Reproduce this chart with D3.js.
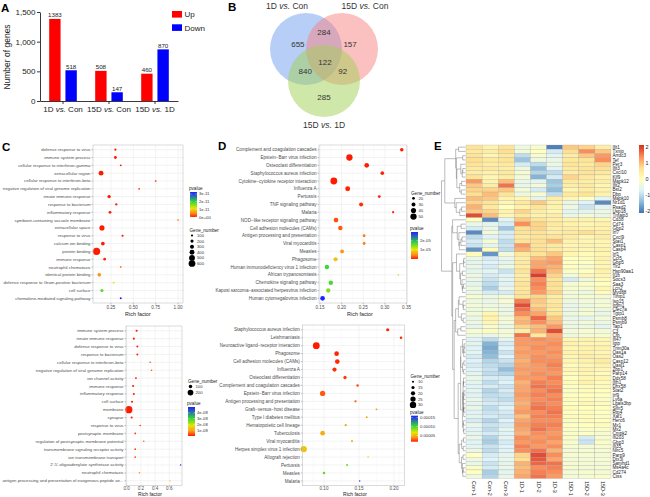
<!DOCTYPE html>
<html>
<head>
<meta charset="utf-8">
<script src="https://cdn.jsdelivr.net/npm/d3@7"></script>
<style>
  body { margin: 0; background: #fff }
  svg { display: block }
  text { font-family: "Liberation Sans", Arial, sans-serif }
</style>
</head>
<body>
<svg id="fig" width="650" height="497"></svg>
<script>
// ---------- A: numbers of DEGs
const comparisons = ["1D vs. Con", "15D vs. Con", "15D vs. 1D"]
const directions = ["Up", "Down"]
const upCounts = [1383, 508, 460]
const downCounts = [518, 147, 870]
const countTicks = [0, 500, 1000, 1500]

// ---------- B: venn
const vennSets = ["1D vs. Con", "15D vs. Con", "15D vs. 1D"]
const vennRegions = ["1", "2", "1&2", "1&3", "1&2&3", "2&3", "3"]
const vennCounts = [655, 157, 284, 840, 122, 92, 285]

// ---------- C: GO enrichment (top / bottom)
const goTopTerms = ["defense response to virus", "immune system process", "cellular response to interferon-gamma", "extracellular region",
  "cellular response to interferon-beta", "negative regulation of viral genome replication", "innate immune response", "response to bacterium",
  "inflammatory response", "symbiont-containing vacuole membrane", "extracellular space", "response to virus", "calcium ion binding",
  "protein binding", "immune response", "neutrophil chemotaxis", "identical protein binding", "defense response to Gram-positive bacterium",
  "cell surface", "chemokine-mediated signaling pathway"]
const goTopRich = [0.30, 0.30, 0.36, 0.14, 0.75, 0.565, 0.23, 0.31, 0.24, 1.0, 0.15, 0.38, 0.16, 0.09, 0.18, 0.36, 0.12, 0.28, 0.15, 0.36]
const goTopGenes = [90, 170, 60, 390, 40, 45, 230, 110, 160, 30, 420, 90, 260, 650, 150, 60, 250, 55, 200, 70]
const goTopP = [1e-25, 1e-30, 2e-14, 1e-35, 5e-13, 8e-13, 1e-28, 3e-16, 1e-20, 3.5e-12, 1e-40, 2e-15, 1e-18, 1e-45, 1e-17, 4.5e-12, 5.5e-12, 1.1e-11, 1.8e-11, 3.26e-11]
const goTopSizeTicks = [100, 200, 300, 400, 500, 600]
const goTopPTicks = [0, 1e-11, 2e-11, 3e-11]

const goBotTerms = ["immune system process", "innate immune response", "defense response to virus", "response to bacterium",
  "cellular response to interferon-beta", "negative regulation of viral genome replication", "ion channel activity", "immune response",
  "inflammatory response", "cell surface", "membrane", "synapse", "response to virus", "postsynaptic membrane",
  "regulation of postsynaptic membrane potential", "transmembrane signaling receptor activity", "ion transmembrane transport",
  "2'-5'-oligoadenylate synthetase activity", "neutrophil chemotaxis", "antigen processing and presentation of exogenous peptide an..."]
const goBotRich = [0.14, 0.10, 0.15, 0.15, 0.33, 0.35, 0.13, 0.09, 0.10, 0.075, 0.03, 0.07, 0.19, 0.12, 0.24, 0.12, 0.12, 0.76, 0.18, 0.61]
const goBotGenes = [40, 36, 30, 28, 10, 10, 30, 32, 30, 36, 265, 32, 15, 22, 12, 22, 22, 5, 12, 6]
const goBotP = [1e-20, 1e-18, 1e-16, 1e-15, 3e-9, 3.5e-9, 1e-12, 1e-14, 1e-13, 1e-12, 1e-25, 1e-11, 2e-9, 2e-9, 5e-9, 3e-9, 3.5e-9, 5e-8, 8e-9, 1.8e-8]
const goBotSizeTicks = [100, 200]
const goBotPTicks = [0, 1e-8, 2e-8, 3e-8, 4e-8]

// ---------- D: KEGG enrichment (top / bottom)
const keggTopTerms = ["Complement and coagulation cascades", "Epstein\u2212Barr virus infection", "Osteoclast differentiation",
  "Staphylococcus aureus infection", "Cytokine\u2212cytokine receptor interaction", "Influenza A", "Pertussis", "TNF signaling pathway",
  "Malaria", "NOD\u2212like receptor signaling pathway", "Cell adhesion molecules (CAMs)", "Antigen processing and presentation",
  "Viral myocarditis", "Measles", "Phagosome", "Human immunodeficiency virus 1 infection", "African trypanosomiasis",
  "Chemokine signaling pathway", "Kaposi sarcoma\u2212associated herpesvirus infection", "Human cytomegalovirus infection"]
const keggTopRich = [0.339, 0.218, 0.258, 0.294, 0.182, 0.214, 0.287, 0.245, 0.319, 0.187, 0.197, 0.252, 0.252, 0.201, 0.186, 0.166, 0.331, 0.175, 0.169, 0.156]
const keggTopGenes = [26, 50, 36, 27, 54, 38, 21, 31, 16, 36, 34, 21, 21, 29, 31, 34, 10, 34, 33, 36]
const keggTopP = [1e-7, 1e-7, 2e-7, 3e-7, 1e-7, 4e-7, 6e-7, 8e-7, 1e-6, 2e-6, 2.5e-6, 4e-6, 4e-6, 5e-6, 8e-6, 1.75e-5, 1.1e-5, 1.7e-5, 1.45e-5, 2.94e-5]
const keggTopSizeTicks = [20, 30, 40, 50]
const keggTopPTicks = [1e-5, 2e-5]

const keggBotTerms = ["Staphylococcus aureus infection", "Leishmaniasis", "Neuroactive ligand\u2212receptor interaction", "Phagosome",
  "Cell adhesion molecules (CAMs)", "Influenza A", "Osteoclast differentiation", "Complement and coagulation cascades",
  "Epstein\u2212Barr virus infection", "Antigen processing and presentation", "Graft\u2212versus\u2212host disease", "Type I diabetes mellitus",
  "Hematopoietic cell lineage", "Tuberculosis", "Viral myocarditis", "Herpes simplex virus 1 infection", "Allograft rejection",
  "Pertussis", "Measles", "Malaria"]
const keggBotRich = [0.191, 0.210, 0.089, 0.118, 0.119, 0.115, 0.130, 0.148, 0.098, 0.145, 0.175, 0.161, 0.131, 0.098, 0.140, 0.071, 0.163, 0.133, 0.100, 0.151]
const keggBotGenes = [15, 12, 32, 22, 22, 20, 16, 12, 25, 11, 9, 9, 11, 22, 11, 30, 8, 10, 12, 7]
const keggBotP = [1.7e-5, 1.8e-5, 1.6e-5, 1.8e-5, 1.9e-5, 2e-5, 2.2e-5, 2.6e-5, 2.8e-5, 3e-5, 4e-5, 4.2e-5, 4.5e-5, 4.8e-5, 5.5e-5, 5.5e-5, 7e-5, 9e-5, 9.5e-5, 1.6e-4]
const keggBotSizeTicks = [10, 15, 20, 25, 30]
const keggBotPTicks = [5e-5, 1e-4, 1.5e-4]

// ---------- E: heatmap
const heatSamples = ["Con-1", "Con-2", "Con-3", "1D-1", "1D-2", "1D-3", "15D-1", "15D-2", "15D-3"]
const heatGenes = ["Ifit1", "Txnip", "Arrdc3", "Tef", "Per3", "Ifit3", "Cxcl10", "Klf9", "Mapk12", "Ifit2", "Bst2", "Dbp", "Mapk10",
  "Nr1d1", "Rsad2", "Usp18", "Tnfaip3", "Cd38", "Cd74", "Gbp2", "Irf7", "Cxcl9", "Stat1", "Casp1", "Casp4", "Irf1", "Ccl5", "Gbp5",
  "Tlr2", "Hsp90aa1", "Il1b", "Socs3", "Saa3", "Lcn2", "Myd88", "Timp1", "Isg15", "Irgm1", "Clec7a", "Tgtp1", "Psmb8", "Psmb9",
  "Tap1", "C3", "Cfb", "Ifi47", "Igtp", "Trim30a", "Oas1a", "Oas2", "Casp12", "Oasl1", "Zbp1", "Parp14", "Ddx58", "Ifih1", "Dhx58",
  "Stat2", "Irf9", "Ly6a", "Lgals3bp", "Slfn5", "Rtp4", "Xaf1", "Herc6", "Mx1", "Mx2", "Cmpk2", "Ifi203", "Gbp3", "Ifi35", "Nlrc5",
  "Parp9", "Dtx3l", "Samhd1", "Ms4a4c", "Cd274", "Ctss"]
const heatValues = [
  [0.6, 0.3, 0.6, -0.4, -0.2, -2.0, 0.9, 0.8, 0.4],
  [0.5, 0.4, 0.7, -0.3, 0.0, -0.8, 0.7, 1.4, 0.9],
  [0.6, 0.2, 0.5, -1.0, -0.2, -0.6, 0.4, 0.9, 1.3],
  [0.7, 0.5, 0.6, -1.3, -0.4, -0.5, 0.5, 0.6, 1.4],
  [0.6, 0.4, 0.5, -0.8, -1.0, -0.4, 0.6, 0.5, 0.8],
  [0.5, 0.5, 0.4, -0.4, -1.4, -0.7, 0.5, 0.6, 0.7],
  [0.4, 0.3, 0.5, -0.2, -1.1, -1.0, 0.4, 0.6, 0.5],
  [0.6, 0.2, 0.4, -0.3, -1.5, -0.8, 0.8, 0.5, 0.3],
  [1.3, 0.3, 1.0, -0.5, -0.6, -1.3, 0.5, 0.4, 0.4],
  [0.9, 0.4, 1.6, -0.5, -0.3, -1.2, 0.4, 0.5, 0.2],
  [0.8, 0.8, 0.9, -0.3, -0.8, -1.4, 0.2, 0.4, 0.3],
  [0.7, 1.0, 0.6, -0.4, -0.2, -1.0, 0.5, 0.6, 0.3],
  [1.0, 0.9, 0.3, 0.2, -0.6, 0.4, 0.2, 0.0, -0.6],
  [0.8, 0.6, 0.2, 0.5, 0.9, 0.3, -0.5, -0.7, -1.9],
  [1.1, 0.5, 0.0, 0.3, 0.6, 0.3, -0.4, -0.9, -0.6],
  [0.9, 0.8, 0.3, 0.8, 0.4, 0.2, -0.6, -0.6, -0.4],
  [1.9, 1.0, 0.2, 0.5, 0.3, 0.4, -0.5, -0.3, -0.5],
  [0.0, -1.9, -0.6, 0.9, 0.6, 0.4, 0.3, 0.3, 0.2],
  [-0.5, -0.6, -0.8, 1.4, 0.8, 0.5, 0.3, 0.2, 0.3],
  [-0.8, -0.5, -1.3, 0.7, 0.8, 0.4, 0.4, 0.3, 0.3],
  [-1.9, -0.3, -0.8, 0.6, 0.6, 0.4, 0.5, 0.7, 0.4],
  [-1.0, -0.7, -0.8, 0.5, 0.6, 0.6, 0.4, 0.2, 0.4],
  [-0.8, -0.2, -1.0, 0.6, 0.7, 1.0, 0.3, 0.2, 0.2],
  [-0.9, -0.6, -0.9, 1.3, 0.6, 0.5, 0.2, 0.3, 0.2],
  [-1.8, 0.1, -1.0, 1.1, 0.7, 0.5, 0.3, 0.2, 0.3],
  [0.1, -1.8, -0.3, 0.5, 0.6, 0.9, 0.2, 0.1, 0.2],
  [-0.4, -0.8, -0.5, 0.4, 1.0, 1.2, 0.0, 0.1, 0.3],
  [-0.6, -0.7, -0.6, 0.5, 1.2, 1.3, 0.0, 0.0, 0.2],
  [-0.5, -0.8, -0.4, 0.4, 1.2, 1.1, 0.0, -0.2, 0.2],
  [-0.6, -0.6, -0.9, 0.6, 1.6, 1.0, -0.1, 0.0, 0.3],
  [-0.4, -0.8, -0.7, 0.4, 2.0, 0.8, -0.3, 0.2, 0.2],
  [-0.5, -0.9, -0.6, 0.5, 1.4, 0.6, -0.8, -0.4, 0.1],
  [-0.6, -1.0, -0.7, 0.6, 1.5, 0.7, -0.2, -0.1, 0.0],
  [-0.4, -1.2, -0.5, 0.5, 1.4, 0.6, -0.2, -0.2, 0.2],
  [-0.5, -0.8, -0.8, 0.6, 1.3, 0.8, -0.3, -0.4, 0.1],
  [-0.2, -0.4, -0.3, 0.6, 0.8, 0.4, -0.3, -0.2, -0.3],
  [-0.4, -0.5, -0.2, 1.5, 0.9, 0.5, -0.4, -0.3, -0.3],
  [-0.3, -0.4, -0.4, 1.9, 0.8, 0.6, -0.5, -0.4, -0.2],
  [-0.4, -0.3, -0.5, 1.6, 1.0, 0.5, -0.5, -0.3, -0.4],
  [-0.3, 0.2, -0.4, 1.4, 1.2, 0.6, -0.4, -0.2, -0.5],
  [-0.5, 0.3, -0.3, 1.0, 1.7, 0.9, -0.5, -0.6, -0.3],
  [-0.4, 0.2, -0.3, 1.1, 1.4, 1.0, -0.4, -0.3, -0.4],
  [-0.6, -0.2, -0.5, 0.8, 1.0, 1.3, -0.4, -0.4, -0.6],
  [-0.2, 0.1, -0.3, 0.4, 1.1, 1.9, -0.3, -0.2, -0.3],
  [-0.4, -0.5, -0.3, 1.6, 0.5, 1.2, -0.4, -0.3, -0.2],
  [-0.7, -1.0, -0.6, 1.3, 1.4, 1.3, 0.2, 0.3, 0.2],
  [-0.6, -1.5, -0.8, 1.3, 1.3, 1.4, 0.3, 0.2, 0.2],
  [-0.7, -1.6, -0.7, 1.2, 1.4, 1.3, 0.2, 0.3, 0.3],
  [-0.6, -1.5, -0.9, 1.3, 1.3, 1.4, 0.3, 0.3, 0.2],
  [-0.8, -1.4, -0.7, 1.2, 1.4, 1.3, 0.2, 0.4, 0.3],
  [-0.7, -1.1, -0.9, 1.1, 1.4, 1.4, 0.2, 0.3, 0.4],
  [-0.8, -1.0, -1.1, 1.2, 1.3, 1.5, 0.1, 0.2, 0.3],
  [-0.7, -0.9, -1.4, 1.3, 1.3, 1.4, 0.2, 0.3, 0.2],
  [-0.6, -1.0, -1.1, 1.2, 1.4, 1.3, 0.1, 0.2, 0.1],
  [-0.5, -0.8, -0.8, 1.3, 1.3, 1.5, 0.0, 0.2, 0.2],
  [-0.6, -1.0, -0.7, 1.1, 1.5, 1.4, 0.1, 0.3, 0.1],
  [-0.7, -0.8, -0.9, 1.2, 1.6, 1.5, 0.0, 0.1, 0.1],
  [-0.6, -1.1, -0.8, 1.2, 1.4, 1.6, -0.1, 0.1, 0.0],
  [-0.7, -1.0, -0.9, 1.3, 1.5, 1.4, 0.0, 0.0, 0.0],
  [-0.5, -0.9, -1.0, 1.2, 1.4, 1.5, 0.1, 0.1, -0.1],
  [-0.6, -0.8, -0.8, 1.1, 1.5, 1.4, 0.0, 0.2, 0.1],
  [-0.5, -1.0, -0.7, 1.2, 1.6, 1.5, 0.1, 0.0, 0.0],
  [-0.7, -0.9, -0.8, 1.3, 1.4, 1.6, 0.0, 0.1, 0.0],
  [-0.6, -0.8, -0.9, 1.0, 1.5, 1.5, 0.1, 0.1, -0.1],
  [-0.8, -1.1, -0.7, 1.2, 1.4, 1.4, -0.1, 0.1, 0.0],
  [-0.5, -0.9, -0.8, 1.3, 1.5, 1.5, 0.0, 0.0, 0.1],
  [-0.7, -1.0, -0.6, 1.2, 1.6, 1.4, -0.1, -0.1, -0.1],
  [-0.6, -0.8, -0.7, 1.1, 1.4, 1.3, -0.1, 0.0, -0.2],
  [-0.5, -1.1, -0.6, 1.4, 1.3, 1.4, -0.1, -0.8, -0.2],
  [-0.7, -1.2, -0.8, 1.3, 1.4, 1.2, -0.2, -0.9, -0.1],
  [-0.6, -0.9, -0.7, 1.5, 1.3, 1.4, -0.2, -0.3, -0.2],
  [-0.5, -1.0, -0.7, 1.4, 1.6, 1.1, -0.3, -0.2, -0.2],
  [0.0, -0.8, -0.6, 0.8, 1.9, 1.4, -0.2, -0.2, -0.3],
  [-0.4, -0.7, -0.5, 0.7, 1.8, 1.2, -0.3, -0.3, -0.2],
  [-0.5, -0.9, -0.6, 1.1, 1.7, 1.6, -0.2, -0.2, -0.3],
  [-0.1, -0.8, -0.5, 1.0, 1.4, 1.5, -0.2, -0.3, -0.2],
  [0.0, -1.2, -0.6, 1.1, 1.5, 1.4, -0.3, -0.2, -0.3],
  [-0.4, -1.1, -0.5, 1.2, 1.6, 1.3, -0.3, -0.2, -0.1]
]
const heatTicks = [-2, -1, 0, 1, 2]
const rdylbu = ["#4575B4", "#91BFDB", "#E0F3F8", "#FFFFBF", "#FEE090", "#FC8D59", "#D73027"]

// ---------- drawing
const svg = d3.select("#fig")
const fontFamily = `"Liberation Sans", Arial, sans-serif`

const panelLetter = (t, x, y) => svg.append("text").attr("x", x).attr("y", y)
  .attr("font-size", 11.5).attr("font-weight", "bold").text(t)

// "1D vs. Con" with italic vs.
const vsLabel = (sel, label) => {
  const [a, b] = label.split(" vs. ")
  sel.text(null)
  sel.append("tspan").text(a + " ")
  sel.append("tspan").attr("font-style", "italic").text("vs.")
  sel.append("tspan").text(" " + b)
}

const drawBars = () => {
  const g = svg.append("g")
  const y = d3.scaleLinear().domain([0, 1500]).range([101, 12])
  const x0 = d3.scaleBand().domain(comparisons).range([40, 178]).paddingInner(0.4).paddingOuter(0.2)
  const x1 = d3.scaleBand().domain(directions).range([0, x0.bandwidth()]).paddingInner(0.3)
  const color = d3.scaleOrdinal().domain(directions).range(["#ff0000", "#0000ff"])
  const rows = comparisons.map((c, i) => ({ c, vals: [{ k: "Up", v: upCounts[i] }, { k: "Down", v: downCounts[i] }] }))

  const grp = g.selectAll(".grp").data(rows).join("g").attr("transform", d => `translate(${x0(d.c)},0)`)
  grp.selectAll("rect").data(d => d.vals).join("rect")
    .attr("x", d => x1(d.k)).attr("width", x1.bandwidth())
    .attr("y", d => y(d.v)).attr("height", d => y(0) - y(d.v))
    .attr("fill", d => color(d.k))
  grp.selectAll(".val").data(d => d.vals).join("text")
    .attr("x", d => x1(d.k) + x1.bandwidth() / 2).attr("y", d => y(d.v) - 1.5)
    .attr("text-anchor", "middle").attr("font-size", 6.2).attr("fill", "#222").text(d => d.v)

  const yAxis = g.append("g").attr("transform", "translate(40,0)")
    .call(d3.axisLeft(y).tickValues(countTicks).tickSize(3).tickSizeOuter(0).tickPadding(1.5))
  yAxis.attr("font-family", fontFamily).selectAll("text").attr("font-size", 8).attr("fill", "#222")
  const xAxis = g.append("g").attr("transform", "translate(0,101)")
    .call(d3.axisBottom(x0).tickSize(3).tickSizeOuter(0).tickPadding(2))
  xAxis.attr("font-family", fontFamily).selectAll("text").attr("font-size", 8).attr("fill", "#222").each(function (d) { vsLabel(d3.select(this), d) })
  g.selectAll(".domain, .tick line").attr("stroke", "#222").attr("stroke-width", 0.9)

  g.append("text").attr("transform", "translate(10,57) rotate(-90)").attr("text-anchor", "middle")
    .attr("font-size", 8.5).attr("fill", "#222").text("Number of genes")

  const leg = g.selectAll(".leg").data(directions).join("g").attr("transform", (d, i) => `translate(172,${11 + i * 13.3})`)
  leg.append("rect").attr("width", 10).attr("height", 6.6).attr("fill", d => color(d))
  leg.append("text").attr("x", 12.5).attr("y", 6.3).attr("font-size", 8).attr("fill", "#222").text(d => d)
}

const drawVenn = () => {
  const g = svg.append("g")
  const centers = [[306, 49], [342, 49], [324, 81]]
  const r = 36
  const fills = ["#6f9ef0", "#f88282", "#a2d055"]
  g.selectAll("circle").data(vennSets).join("circle")
    .attr("cx", (d, i) => centers[i][0]).attr("cy", (d, i) => centers[i][1]).attr("r", r)
    .attr("fill", (d, i) => fills[i]).attr("fill-opacity", 0.5)
  const setLabelPos = [[287, 9], [365, 9], [324, 128]]
  g.selectAll(".setlab").data(vennSets).join("text")
    .attr("x", (d, i) => setLabelPos[i][0]).attr("y", (d, i) => setLabelPos[i][1])
    .attr("text-anchor", "middle").attr("font-size", 8.5).attr("fill", "#333")
    .each(function (d) { vsLabel(d3.select(this), d) })
  // region label anchor: mean of member centres pushed away from the rest
  const cm = [d3.mean(centers, c => c[0]), d3.mean(centers, c => c[1])]
  const pushBy = { "1": 0.45, "2": 0.45, "3": 0.75, "1&2": 0.9, "1&3": 0.6, "2&3": 0.6, "1&2&3": 0 }
  const regionPos = key => {
    const idx = key.split("&").map(k => +k - 1)
    const m = [d3.mean(idx, i => centers[i][0]), d3.mean(idx, i => centers[i][1])]
    const k = pushBy[key] * (idx.length === 2 ? 1.8 : 1)
    return idx.length === 3 ? [cm[0] + 1, cm[1] + 2] : [m[0] + (m[0] - cm[0]) * k, m[1] + (m[1] - cm[1]) * k]
  }
  g.selectAll(".cnt").data(vennRegions).join("text")
    .attr("x", d => regionPos(d)[0]).attr("y", d => regionPos(d)[1] + 3)
    .attr("text-anchor", "middle").attr("font-size", 8).attr("fill", "#333")
    .text((d, i) => vennCounts[i])
}

// p-value colours, ggplot-like red -> blue gradient
const pStops = [0, 0.15, 0.35, 0.6, 1]
const pColors = ["#ff1a00", "#ff8c1a", "#e6e600", "#38d838", "#2020ff"]
const sciFmt = v => {
  const [m, e] = v.toExponential(0).split("e")
  const s = e[0] === "-" ? "-" : "+"
  return `${m}e${s}${e.replace(/[+-]/, "").padStart(2, "0")}`
}
let gradId = 0

const dotPlot = cfg => {
  const { terms, rich, genes, pvals, box, xDomain, xTicks, xFmt, rRange, fs } = cfg
  const g = svg.append("g")
  const x = d3.scaleLinear().domain(xDomain).range([box.x0, box.x1])
  const y = d3.scalePoint().domain(terms).range([box.y0, box.y1]).padding(0.6)
  const [pmin, pmax] = d3.extent(pvals)
  const col = d3.scaleLinear().domain(pStops.map(t => pmin + t * (pmax - pmin))).range(pColors)
  const rad = d3.scaleLinear().domain(d3.extent(genes)).range(rRange)
  const atBottom = box.y1 > 480

  g.append("rect").attr("x", box.x0).attr("y", box.y0).attr("width", box.x1 - box.x0).attr("height", box.y1 - box.y0).attr("fill", "#fff")
  const minor = d3.pairs([x.domain()[0], ...xTicks, x.domain()[1]]).map(([a, b]) => (a + b) / 2)
  g.selectAll(".mn").data(minor).join("line")
    .attr("x1", d => x(d)).attr("x2", d => x(d)).attr("y1", box.y0).attr("y2", box.y1)
    .attr("stroke", "#f4f4f4").attr("stroke-width", 0.4)
  g.selectAll(".mj").data(xTicks).join("line")
    .attr("x1", d => x(d)).attr("x2", d => x(d)).attr("y1", box.y0).attr("y2", box.y1)
    .attr("stroke", "#ebebeb").attr("stroke-width", 0.6)
  g.selectAll(".hz").data(terms).join("line")
    .attr("x1", box.x0).attr("x2", box.x1).attr("y1", d => y(d)).attr("y2", d => y(d))
    .attr("stroke", "#ebebeb").attr("stroke-width", 0.6)

  const pts = terms.map((t, i) => ({ t, r: rich[i], n: genes[i], p: pvals[i] }))
  g.selectAll(".pt").data(pts).join("circle")
    .attr("cx", d => x(d.r)).attr("cy", d => y(d.t)).attr("r", d => rad(d.n))
    .attr("fill", d => col(d.p))
  g.append("rect").attr("x", box.x0).attr("y", box.y0).attr("width", box.x1 - box.x0).attr("height", box.y1 - box.y0)
    .attr("fill", "none").attr("stroke", "#c4c4c4").attr("stroke-width", 0.6)

  // axes
  g.selectAll(".yt").data(terms).join("line").attr("x1", box.x0 - 1.5).attr("x2", box.x0)
    .attr("y1", d => y(d)).attr("y2", d => y(d)).attr("stroke", "#666").attr("stroke-width", 0.4)
  g.selectAll(".yl").data(terms).join("text").attr("x", box.x0 - 2.5).attr("y", d => y(d) + fs * 0.35)
    .attr("text-anchor", "end").attr("font-size", fs).attr("fill", "#4d4d4d").text(d => d)
  g.selectAll(".xt").data(xTicks).join("line").attr("x1", d => x(d)).attr("x2", d => x(d))
    .attr("y1", box.y1).attr("y2", box.y1 + 1.5).attr("stroke", "#666").attr("stroke-width", 0.4)
  g.selectAll(".xl").data(xTicks).join("text").attr("x", d => x(d)).attr("y", box.y1 + (atBottom ? 4.7 : 6.3))
    .attr("text-anchor", "middle").attr("font-size", 4.6).attr("fill", "#4d4d4d").text(d => d3.format(xFmt)(d))
  g.append("text").attr("x", cfg.titleX).attr("y", atBottom ? 496 : box.y1 + 12.5).attr("text-anchor", "middle")
    .attr("font-size", atBottom ? 5 : 5.4).attr("fill", "#222").text("Rich factor")

  // colour bar legend
  const cb = cfg.colorLegend
  const id = `pgrad${gradId++}`
  const grad = svg.append("defs").append("linearGradient").attr("id", id).attr("x1", 0).attr("x2", 0).attr("y1", 1).attr("y2", 0)
  grad.selectAll("stop").data(pStops).join("stop").attr("offset", d => d).attr("stop-color", (d, i) => pColors[i])
  g.append("text").attr("x", cb.x - 1).attr("y", cb.y - 2.2).attr("font-size", 4.6).attr("fill", "#222").text("pvalue")
  g.append("rect").attr("x", cb.x).attr("y", cb.y).attr("width", 7).attr("height", cb.h).attr("fill", `url(#${id})`)
  const cy = d3.scaleLinear().domain([pmin, pmax]).range([cb.y + cb.h, cb.y])
  const ticks = cb.ticks.filter(t => t >= pmin - 1e-30 && t <= pmax)
  g.selectAll(".cbt").data(ticks).join("line").attr("x1", cb.x).attr("x2", cb.x + 1.5)
    .attr("y1", d => cy(d)).attr("y2", d => cy(d)).attr("stroke", "#fff").attr("stroke-width", 0.4)
  g.selectAll(".cbt2").data(ticks).join("line").attr("x1", cb.x + 5.5).attr("x2", cb.x + 7)
    .attr("y1", d => cy(d)).attr("y2", d => cy(d)).attr("stroke", "#fff").attr("stroke-width", 0.4)
  g.selectAll(".cbl").data(ticks).join("text").attr("x", cb.x + 9).attr("y", d => cy(d) + 1.5)
    .attr("font-size", 4.2).attr("fill", "#333").text(d => cb.fmt(d))

  // size legend
  const sl = cfg.sizeLegend
  g.append("text").attr("x", sl.x - 2.5).attr("y", sl.y - 3.5).attr("font-size", 4.6).attr("fill", "#222").text("Gene_number")
  const sg = g.selectAll(".sz").data(sl.ticks).join("g").attr("transform", (d, i) => `translate(${sl.x},${sl.y + i * sl.step})`)
  sg.append("circle").attr("r", d => rad(d)).attr("fill", "#000")
  sg.append("text").attr("x", 5).attr("y", 1.5).attr("font-size", 4.2).attr("fill", "#333").text(d => d)
}

// complete linkage, merging only neighbouring clusters so the displayed row order is kept
const orderedTree = rows => {
  const dist = (a, b) => Math.sqrt(d3.sum(a, (v, i) => (v - b[i]) ** 2))
  let clusters = rows.map((r, i) => ({ members: [i], height: 0, pos: i }))
  while (clusters.length > 1) {
    let best = 0, bd = Infinity
    for (let i = 0; i < clusters.length - 1; i++) {
      let d = 0
      clusters[i].members.forEach(a => clusters[i + 1].members.forEach(b => { d = Math.max(d, dist(rows[a], rows[b])) }))
      if (d < bd) { bd = d; best = i }
    }
    const a = clusters[best], b = clusters[best + 1]
    clusters.splice(best, 2, { left: a, right: b, members: a.members.concat(b.members), height: Math.max(bd, a.height, b.height), pos: (a.pos + b.pos) / 2 })
  }
  return clusters[0]
}

const drawHeatmap = () => {
  const g = svg.append("g")
  const x = d3.scaleBand().domain(heatSamples).range([466, 611])
  const y = d3.scaleBand().domain(d3.range(heatGenes.length)).range([145, 478.5])
  const cdom = rdylbu.map((c, i) => -2.1 + i * 4.2 / (rdylbu.length - 1))
  const color = d3.scaleLinear().domain(cdom).range(rdylbu)

  const cells = heatValues.flatMap((row, i) => row.map((v, j) => ({ i, s: heatSamples[j], v })))
  g.selectAll(".cell").data(cells).join("rect")
    .attr("x", d => x(d.s)).attr("y", d => y(d.i)).attr("width", x.bandwidth()).attr("height", y.bandwidth())
    .attr("fill", d => color(d.v)).attr("stroke", "#a0a0a0").attr("stroke-width", 0.25)

  g.selectAll(".rl").data(heatGenes).join("text").attr("x", 612.5).attr("y", (d, i) => y(i) + y.bandwidth() / 2 + 1.6)
    .attr("font-size", 4.6).attr("fill", "#222").text(d => d)
  g.selectAll(".cl").data(heatSamples).join("text")
    .attr("transform", d => `translate(${x(d) + x.bandwidth() / 2 - 2},481) rotate(90)`)
    .attr("font-size", 5.4).attr("fill", "#222").text(d => d)

  // row dendrogram
  const root = orderedTree(heatValues)
  const dx = d3.scaleLinear().domain([0, root.height]).range([465.5, 441.5])
  const py = p => y(0) + (p + 0.5) * y.step()
  const segs = []
  const walk = n => {
    if (!n.left) return
    ;[n.left, n.right].forEach(c => { segs.push([dx(c.height), py(c.pos), dx(n.height), py(c.pos)]); walk(c) })
    segs.push([dx(n.height), py(n.left.pos), dx(n.height), py(n.right.pos)])
  }
  walk(root)
  g.selectAll(".dg").data(segs).join("line")
    .attr("x1", d => d[0]).attr("y1", d => d[1]).attr("x2", d => d[2]).attr("y2", d => d[3])
    .attr("stroke", "#555").attr("stroke-width", 0.4)

  // colour key
  const ky = d3.scaleLinear().domain([-2.125, 2.125]).range([213, 145])
  const grad = svg.append("defs").append("linearGradient").attr("id", "heatgrad").attr("x1", 0).attr("x2", 0).attr("y1", 1).attr("y2", 0)
  grad.selectAll("stop").data(cdom).join("stop")
    .attr("offset", d => (d + 2.125) / 4.25).attr("stop-color", (d, i) => rdylbu[i])
  g.append("rect").attr("x", 639).attr("y", 145).attr("width", 5).attr("height", 68).attr("fill", "url(#heatgrad)")
  g.selectAll(".kl").data(heatTicks).join("text").attr("x", 645.5).attr("y", d => ky(d) + 2)
    .attr("font-size", 5.4).attr("fill", "#222").text(d => d)
}

drawBars()
drawVenn()

dotPlot({
  terms: goTopTerms, rich: goTopRich, genes: goTopGenes, pvals: goTopP,
  box: { x0: 93, x1: 183, y0: 145, y1: 303 }, xDomain: [0.05, 1.055], xTicks: [0.25, 0.5, 0.75, 1.0], xFmt: ".2f",
  rRange: [0.8, 3.6], fs: 4.3, titleX: 138,
  colorLegend: { x: 190, y: 192, h: 25, ticks: goTopPTicks, fmt: sciFmt },
  sizeLegend: { x: 192, y: 235.5, step: 5.6, ticks: goTopSizeTicks }
})
dotPlot({
  terms: goBotTerms, rich: goBotRich, genes: goBotGenes, pvals: goBotP,
  box: { x0: 126, x1: 182, y0: 326, y1: 485.5 }, xDomain: [-0.01, 0.779], xTicks: [0, 0.2, 0.4, 0.6], xFmt: ".1f",
  rRange: [0.7, 3.6], fs: 4.3, titleX: 150,
  colorLegend: { x: 188, y: 407, h: 29, ticks: goBotPTicks, fmt: sciFmt },
  sizeLegend: { x: 190.5, y: 386.5, step: 6, ticks: goBotSizeTicks }
})
dotPlot({
  terms: keggTopTerms, rich: keggTopRich, genes: keggTopGenes, pvals: keggTopP,
  box: { x0: 319, x1: 407, y0: 145, y1: 303 }, xDomain: [0.1477, 0.3511], xTicks: [0.15, 0.2, 0.25, 0.3, 0.35], xFmt: ".2f",
  rRange: [0.8, 3.4], fs: 4.6, titleX: 360,
  colorLegend: { x: 411, y: 232, h: 27, ticks: keggTopPTicks, fmt: sciFmt },
  sizeLegend: { x: 413.5, y: 198.3, step: 6.1, ticks: keggTopSizeTicks }
})
dotPlot({
  terms: keggBotTerms, rich: keggBotRich, genes: keggBotGenes, pvals: keggBotP,
  box: { x0: 302.3, x1: 404.3, y0: 325, y1: 485.7 }, xDomain: [0.069, 0.2147], xTicks: [0.1, 0.15, 0.2], xFmt: ".2f",
  rRange: [0.7, 3.4], fs: 4.6, titleX: 355,
  colorLegend: { x: 411, y: 415.7, h: 26, ticks: keggBotPTicks, fmt: d3.format(".5f") },
  sizeLegend: { x: 413, y: 381.7, step: 5.8, ticks: keggBotSizeTicks }
})

drawHeatmap()

panelLetter("A", 1, 12)
panelLetter("B", 228, 11)
panelLetter("C", 2, 151)
panelLetter("D", 218, 150)
panelLetter("E", 434, 150)
</script>
</body>
</html>
